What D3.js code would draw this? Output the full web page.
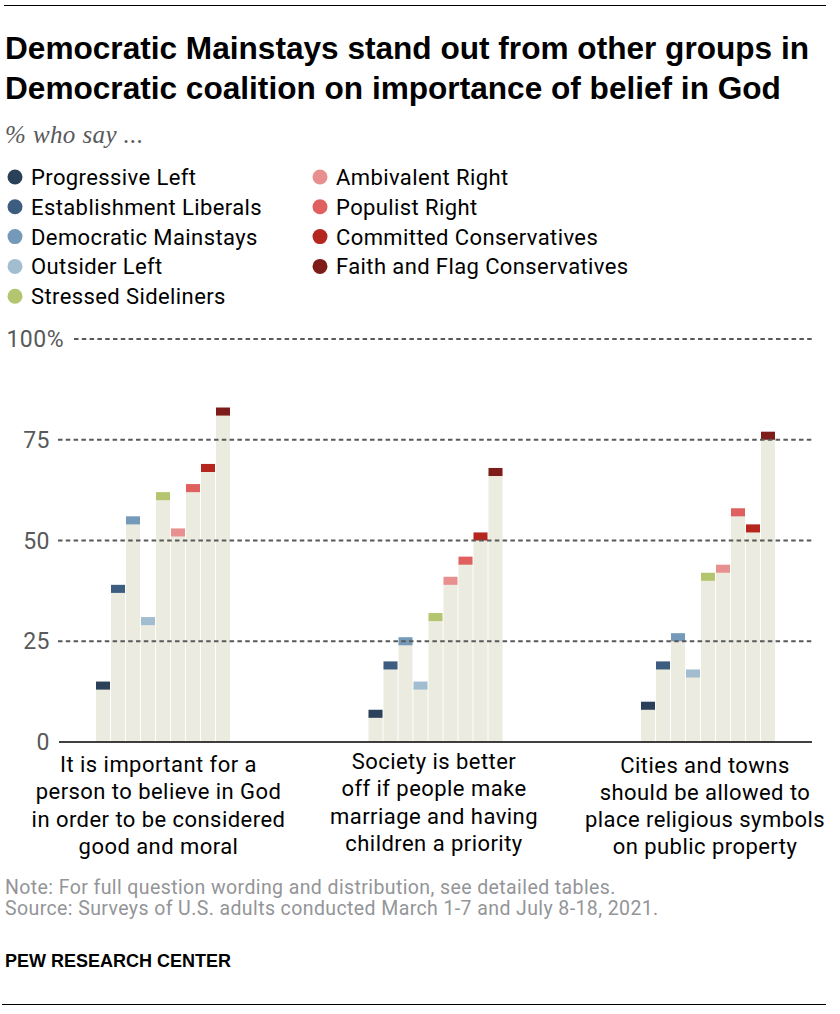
<!DOCTYPE html>
<html>
<head>
<meta charset="utf-8">
<script src="https://cdn.jsdelivr.net/npm/d3@7"></script>
<style>
body { margin: 0; background: #fff; }
svg { display: block; }
text { font-family: Roboto, sans-serif; }
.title { font-family: "Liberation Sans", sans-serif; font-weight: bold; font-size: 31.6px; fill: #000; }
.subtitle { font-family: "Liberation Serif", serif; font-style: italic; font-size: 25px; letter-spacing: 0.4px; fill: #58595b; }
.legend text { font-size: 22px; letter-spacing: 0.4px; fill: #000; }
.tick-label { font-size: 23px; letter-spacing: 0.5px; fill: #58595b; }
.cat { font-size: 22px; letter-spacing: 0.45px; fill: #000; text-anchor: middle; }
.note { font-size: 19.5px; letter-spacing: 0.4px; fill: #939598; }
.credit { font-family: "Liberation Sans", sans-serif; font-weight: bold; font-size: 18px; fill: #000; }
</style>
</head>
<body>
<svg id="chart"></svg>
<script>
var width = 840, height = 1014;

var seriesNames = ["Progressive Left", "Establishment Liberals", "Democratic Mainstays", "Outsider Left", "Stressed Sideliners", "Ambivalent Right", "Populist Right", "Committed Conservatives", "Faith and Flag Conservatives"];
var seriesColors = ["#2a4159", "#3c5d80", "#7599b8", "#a3bdd0", "#b3c56e", "#e89090", "#e05f5f", "#b5261e", "#7d1c19"];
var questions = ["believe", "marriage", "symbols"];
var believeValues = [14, 38, 55, 30, 61, 52, 63, 68, 82];
var marriageValues = [7, 19, 25, 14, 31, 40, 45, 51, 67];
var symbolsValues = [9, 19, 26, 17, 41, 43, 57, 53, 76];
var yTicks = [0, 25, 50, 75, 100];
var questionLabels = [
    ["It is important for a", "person to believe in God", "in order to be considered", "good and moral"],
    ["Society is better", "off if people make", "marriage and having", "children a priority"],
    ["Cities and towns", "should be allowed to", "place religious symbols", "on public property"]
];
var titleLines = ["Democratic Mainstays stand out from other groups in", "Democratic coalition on importance of belief in God"];
var noteLines = ["Note: For full question wording and distribution, see detailed tables.", "Source: Surveys of U.S. adults conducted March 1-7 and July 8-18, 2021."];

var allValues = [believeValues, marriageValues, symbolsValues];

var svg = d3.select("#chart").attr("width", width).attr("height", height);

// rules top and bottom
svg.append("line").attr("x1", 4).attr("x2", 826).attr("y1", 5.5).attr("y2", 5.5).attr("stroke", "#000");
svg.append("line").attr("x1", 2).attr("x2", 826).attr("y1", 1004.5).attr("y2", 1004.5).attr("stroke", "#000");

svg.selectAll(".title").data(titleLines).enter().append("text")
    .attr("class", "title").attr("x", 5).attr("y", (d, i) => 59 + i * 40).text(d => d);

svg.append("text").attr("class", "subtitle").attr("x", 5).attr("y", 143).text("% who say ...");

// legend, two columns
var legend = svg.append("g").attr("class", "legend");
var legendItems = legend.selectAll("g").data(seriesNames).enter().append("g")
    .attr("transform", (d, i) => i < 5 ? `translate(15,${177 + i * 29.8})` : `translate(320,${177 + (i - 5) * 29.8})`);
legendItems.append("circle").attr("r", 7.5).attr("fill", (d, i) => seriesColors[i]);
legendItems.append("text").attr("x", 16).attr("y", 8).text(d => d);

// scales
var y = d3.scaleLinear().domain([0, 100]).range([742, 339]);
var xGroup = d3.scalePoint().domain(questions).range([96, 641]);
var xBar = d3.scaleBand().domain(seriesNames).range([0, 134]).paddingInner(1 / 15);
var capHalf = 1;

var groups = svg.selectAll(".group").data(questions).enter().append("g")
    .attr("class", "group")
    .attr("transform", d => `translate(${xGroup(d)},0)`);

groups.each(function (q, qi) {
    var g = d3.select(this);
    var vals = allValues[qi];
    g.selectAll(".bar").data(seriesNames).enter().append("rect")
        .attr("class", "bar")
        .attr("x", d => xBar(d))
        .attr("width", xBar.bandwidth())
        .attr("y", (d, i) => y(vals[i]))
        .attr("height", (d, i) => y(0) - y(vals[i]))
        .attr("fill", "#ebecdf");
    g.selectAll(".cap").data(seriesNames).enter().append("rect")
        .attr("class", "cap")
        .attr("x", d => xBar(d))
        .attr("width", xBar.bandwidth())
        .attr("y", (d, i) => y(vals[i] + capHalf))
        .attr("height", y(0) - y(2 * capHalf))
        .attr("fill", (d, i) => seriesColors[i]);
});

// gridlines go over the bars
svg.selectAll(".grid").data(yTicks.filter(d => d > 0)).enter().append("line")
    .attr("class", "grid")
    .attr("x1", d => d == 100 ? 74 : 58)
    .attr("x2", 812)
    .attr("y1", d => y(d))
    .attr("y2", d => y(d))
    .attr("stroke", "#58595b")
    .attr("stroke-width", 2)
    .attr("stroke-dasharray", "4.5,3.3");

svg.append("line").attr("x1", 59).attr("x2", 812).attr("y1", y(0)).attr("y2", y(0))
    .attr("stroke", "#000").attr("stroke-width", 1.5);

svg.selectAll(".tick-label").data(yTicks).enter().append("text")
    .attr("class", "tick-label")
    .attr("x", d => d == 100 ? 64 : 50)
    .attr("y", d => y(d) + 8)
    .attr("text-anchor", "end")
    .text(d => d == 100 ? "100%" : d);

// question labels
var labelCenters = [158.5, 434, 705];
var labelTops = [772, 769, 772.5];
questionLabels.forEach(function (lines, qi) {
    svg.selectAll(".cat" + qi).data(lines).enter().append("text")
        .attr("class", "cat cat" + qi)
        .attr("x", labelCenters[qi])
        .attr("y", (d, i) => labelTops[qi] + i * 27.3)
        .text(d => d);
});

svg.selectAll(".note").data(noteLines).enter().append("text")
    .attr("class", "note").attr("x", 5).attr("y", (d, i) => 894 + i * 21).text(d => d);

svg.append("text").attr("class", "credit").attr("x", 5).attr("y", 967).text("PEW RESEARCH CENTER");
</script>
</body>
</html>
